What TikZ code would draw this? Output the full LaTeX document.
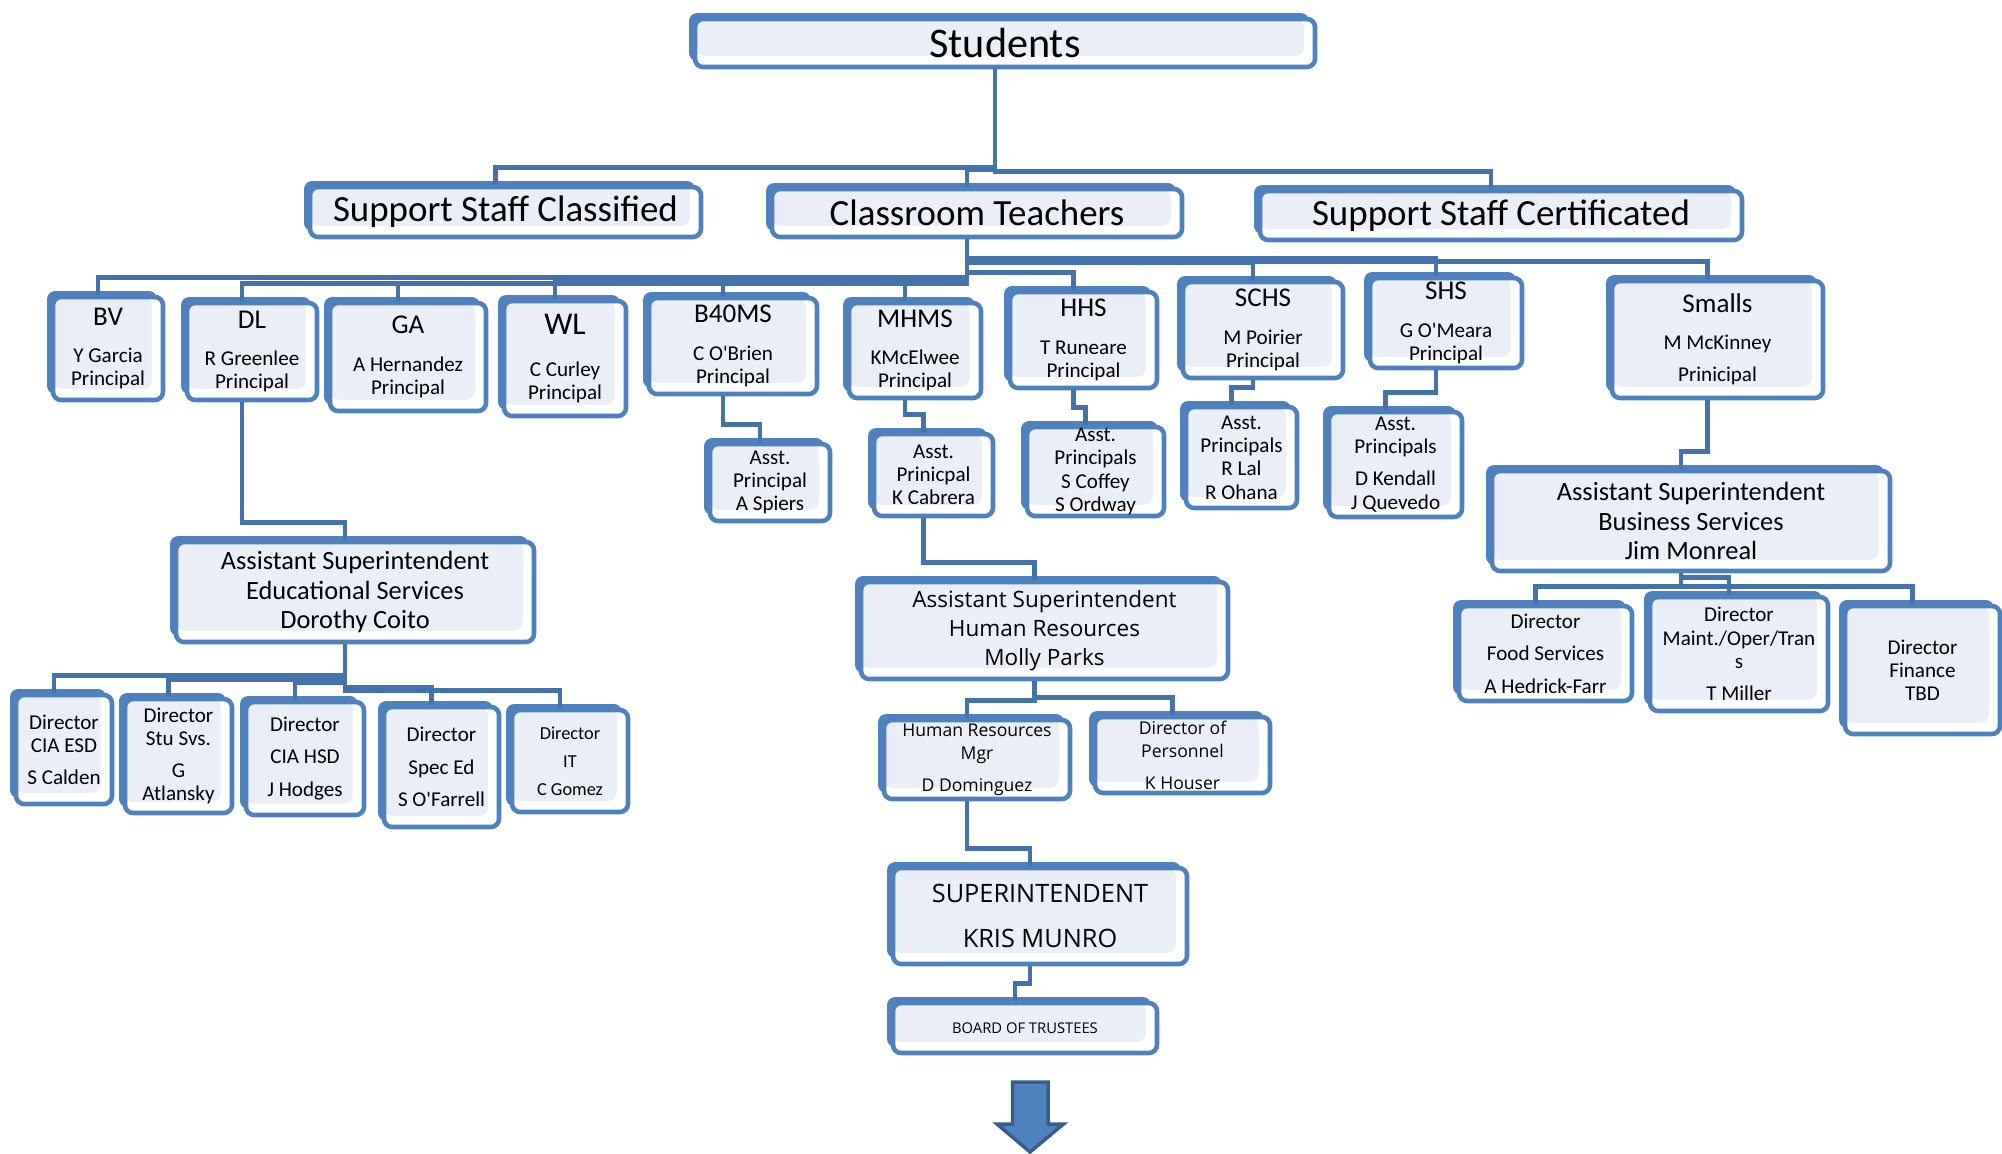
\documentclass[tikz,border=0pt]{standalone}
\usepackage{fontspec}
\setmainfont{Carlito}
\newfontfamily\hrfont{Open Sans}
\usepackage{tikz}
\usetikzlibrary{calc,shadows}
\definecolor{boxblue}{RGB}{79,129,189}
\definecolor{boxfill}{RGB}{233,238,247}
\definecolor{linkblue}{RGB}{68,114,170}
\definecolor{arrowedge}{RGB}{56,93,138}

\begin{document}
\begin{tikzpicture}[x=0.01cm, y=-0.01cm,
	orgbox/.style={draw=boxblue, line width=1.3pt, rounded corners=2.3pt, fill=white, align=center, inner sep=0pt,
		general shadow={fill=boxblue, shadow xshift=-1.7pt, shadow yshift=1.7pt},
		path picture={\fill[boxfill] (path picture bounding box.north west) rectangle ([shift={(-3.2pt,3.2pt)}]path picture bounding box.south east);}},
	wh/.style 2 args={minimum width=#1*0.01cm, minimum height=#2*0.01cm},
	tier/.style={orgbox, font=\fontsize{10.5}{12}\selectfont},
	site/.style={orgbox, font=\fontsize{6}{6.6}\selectfont},
	asst/.style={orgbox, font=\fontsize{7.5}{8.3}\selectfont},
	hrbox/.style={orgbox, font=\hrfont\fontsize{5}{6.6}\selectfont},
	link/.style={draw=linkblue, line width=1.4pt}]

	\useasboundingbox (0,0) rectangle (2002,1154);

	\node[orgbox, wh={620}{48}, font=\fontsize{12}{14}\selectfont] (stu) at (1005,43) {Students};
	\node[tier, wh={391}{50}] (ssc) at (505.5,212) {Support Staff Classified};
	\node[tier, wh={410}{48}] (ct) at (977,213) {Classroom Teachers};
	\node[tier, wh={482}{49}] (sscert) at (1501,215.5) {Support Staff Certificated};

	\node[site, wh={110}{103}] (bv) at (108,348.5) {{\fontsize{7.7}{8}\selectfont BV}\\[4pt]Y Garcia\\Principal};
	\node[site, wh={130}{97}] (dl) at (252,351.5) {{\fontsize{7.7}{8}\selectfont DL}\\[4pt]R Greenlee\\Principal};
	\node[site, wh={156}{108}] (ga) at (408,357) {{\fontsize{7.7}{8}\selectfont GA}\\[4pt]A Hernandez\\Principal};
	\node[site, wh={122}{115}] (wl) at (565,358.5) {{\fontsize{9}{9}\selectfont WL}\\[5.4pt]C Curley\\Principal};
	\node[site, wh={168}{96}] (bfms) at (733,346) {{\fontsize{7.7}{8}\selectfont B40MS}\\[4pt]C O\textquotesingle Brien\\Principal};
	\node[site, wh={132}{95}] (mhms) at (915,350.5) {{\fontsize{7.7}{8}\selectfont MHMS}\\[4pt]KMcElwee\\Principal};
	\node[site, wh={147}{96}] (hhs) at (1083.5,340) {{\fontsize{7.7}{8}\selectfont HHS}\\[4pt]T Runeare\\Principal};
	\node[site, wh={160}{96}] (schs) at (1263,330) {{\fontsize{7.7}{8}\selectfont SCHS}\\[4pt]M Poirier\\Principal};
	\node[site, wh={152}{90}] (shs) at (1446,323) {{\fontsize{7.7}{8}\selectfont SHS}\\[4pt]G O\textquotesingle Meara\\Principal};
	\node[site, wh={211}{117}] (smalls) at (1717.5,339.5) {{\fontsize{7.7}{8}\selectfont Smalls}\\[4pt]M McKinney\\[2.5pt]Prinicipal};

	\node[site, wh={120}{77}] (bfmsap) at (770,482.5) {Asst.\\Principal\\A Spiers};
	\node[site, wh={119}{82}] (mhmsap) at (933.5,475) {Asst.\\Prinicpal\\K Cabrera};
	\node[site, wh={137}{89}] (hhsap) at (1095.5,471.5) {Asst.\\Principals\\S Coffey\\S Ordway};
	\node[site, wh={111}{101}] (schsap) at (1241.5,457.5) {Asst.\\Principals\\R Lal\\R Ohana};
	\node[site, wh={133}{105}] (shsap) at (1395.5,464.5) {Asst.\\Principals\\[2.5pt]D Kendall\\J Quevedo};

	\node[asst, wh={398}{100}] (asbus) at (1691,521) {Assistant Superintendent\\Business Services\\Jim Monreal};
	\node[site, wh={173}{95}] (dfood) at (1545.5,653.5) {Director\\[2.6pt]Food Services\\[2.6pt]A Hedrick-Farr};
	\node[site, wh={178}{114}] (dmaint) at (1739,654) {Director\\Maint./Oper/Tran\\s\\[2.5pt]T Miller};
	\node[site, wh={155}{128}] (dfin) at (1922.5,670) {Director\\Finance\\TBD};

	\node[asst, wh={358}{100}] (asedu) at (355,592) {Assistant Superintendent\\Educational Services\\Dorothy Coito};
	\node[site, wh={96}{109}] (dciaesd) at (64,749.5) {Director\\CIA ESD\\[2.5pt]S Calden};
	\node[site, wh={107}{114}] (dstu) at (178.5,756) {Director\\Stu Svs.\\[2.5pt]G\\Atlansky};
	\node[site, wh={118}{113}] (dciahsd) at (305,758.5) {Director\\[2.7pt]CIA HSD\\[2.7pt]J Hodges};
	\node[site, wh={115}{120}] (dsped) at (441.5,767) {Director\\[2.7pt]Spec Ed\\[2.7pt]S O\textquotesingle Farrell};
	\node[site, wh={116}{102}, font=\fontsize{5.2}{8}\selectfont] (dit) at (570,761) {Director\\IT\\C Gomez};

	\node[hrbox, wh={367}{97}, font=\hrfont\fontsize{6.4}{8.3}\selectfont] (ashr) at (1044.5,630.5) {Assistant Superintendent\\Human Resources\\Molly Parks};
	\node[hrbox, wh={186}{79}] (hrmgr) at (977,759.5) {Human Resources\\Mgr\\[2.5pt]D Dominguez};
	\node[hrbox, wh={175}{76}] (dpers) at (1182.5,755) {Director of\\Personnel\\[2.5pt]K Houser};
	\node[hrbox, wh={294}{96}, font=\hrfont\fontsize{7.2}{12.7}\selectfont] (supt) at (1040,916) {SUPERINTENDENT\\KRIS MUNRO};
	\node[hrbox, wh={264}{50}, font=\hrfont\fontsize{4.2}{5}\selectfont] (board) at (1025,1028) {BOARD OF TRUSTEES};

	\foreach \c in {ssc,ct,sscert}
		\draw[link] ($(stu.south)+(-10,0)$) |- ($(\c.north)+(-10,-17)$) -- ++(0,17);
	\foreach \c in {bv,dl,ga,wl,bfms,mhms,hhs,schs,shs,smalls}
		\draw[link] ($(ct.south)+(-10,0)$) |- ($(\c.north)+(-10,-17)$) -- ++(0,17);
	\foreach \p/\c in {bfms/bfmsap,mhms/mhmsap,hhs/hhsap,schs/schsap,shs/shsap,smalls/asbus,dl/asedu,mhmsap/ashr,hrmgr/supt,supt/board}
		\draw[link] ($(\p.south)+(-10,0)$) |- ($(\c.north)+(-10,-17)$) -- ++(0,17);
	\foreach \c in {dfood,dmaint,dfin}
		\draw[link] ($(asbus.south)+(-10,0)$) |- ($(\c.north)+(-10,-17)$) -- ++(0,17);
	\foreach \c in {dciaesd,dstu,dciahsd,dsped,dit}
		\draw[link] ($(asedu.south)+(-10,0)$) |- ($(\c.north)+(-10,-17)$) -- ++(0,17);
	\foreach \c in {hrmgr,dpers}
		\draw[link] ($(ashr.south)+(-10,0)$) |- ($(\c.north)+(-10,-17)$) -- ++(0,17);

	\draw[fill=boxblue, draw=arrowedge, line width=1pt] (1012.5,1082) -- (1048,1082) -- (1048,1124) -- (1063.5,1124) -- (1030,1152) -- (997,1124) -- (1012.5,1124) -- cycle;
\end{tikzpicture}
\end{document}
